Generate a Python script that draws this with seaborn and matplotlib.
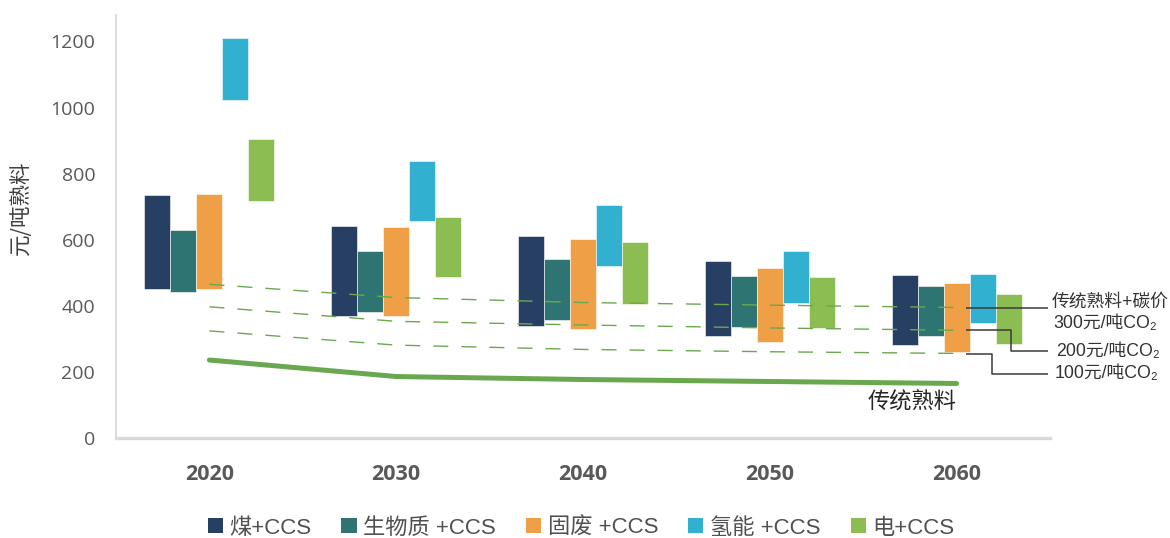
import numpy as np
import pandas as pd
import matplotlib
matplotlib.use("Agg")
import matplotlib.pyplot as plt
from matplotlib.patches import Patch
import seaborn as sns

# ---------------- data ----------------
years = [2020, 2030, 2040, 2050, 2060]
series = ["煤+CCS", "生物质 +CCS", "固废 +CCS", "氢能 +CCS", "电+CCS"]

coal_low = [450, 369, 338, 310, 281]
coal_high = [735, 641, 610, 537, 493]
bio_low = [443, 382, 358, 335, 310]
bio_high = [630, 565, 543, 491, 460]
waste_low = [452, 369, 330, 289, 260]
waste_high = [737, 639, 601, 514, 469]
h2_low = [1022, 656, 519, 410, 349]
h2_high = [1211, 839, 705, 567, 497]
elec_low = [716, 487, 405, 332, 284]
elec_high = [904, 668, 592, 488, 435]

trad = [236, 186, 177, 171, 165]
carbon300 = [465, 425, 410, 402, 395]
carbon200 = [397, 353, 342, 333, 326]
carbon100 = [324, 281, 268, 261, 256]

yticks = [0, 200, 400, 600, 800, 1000, 1200]
ylabel = "元/吨熟料"
trad_label = "传统熟料"
price_labels = ["传统熟料+碳价", "300元/吨CO₂", "200元/吨CO₂", "100元/吨CO₂"]

colors = ["#273f63", "#2e7473", "#ef9f45", "#31b0d0", "#8bbd52"]
line_green = "#6aa84f"

# ---------------- style ----------------
sns.set_theme(style="white")
CJK = ["Noto Sans CJK SC", "DejaVu Sans"]
MIX = ["Liberation Sans", "Noto Sans CJK SC", "DejaVu Sans"]
plt.rcParams["font.family"] = ["Open Sans", "Noto Sans CJK SC", "DejaVu Sans"]

W, H = 1170, 538
fig = plt.figure(figsize=(W / 100, H / 100), dpi=100)
ax = fig.add_axes([116 / W, 100 / H, 934 / W, 423 / H])

lows = [coal_low, bio_low, waste_low, h2_low, elec_low]
highs = [coal_high, bio_high, waste_high, h2_high, elec_high]

bar_frac = 0.139          # fraction of the 10-year spacing per bar
step = 10 * bar_frac
for i, (lo, hi) in enumerate(zip(lows, highs)):
    lo = np.array(lo, float)
    hi = np.array(hi, float)
    xpos = np.array(years, float) + (i - 2) * step
    df = pd.DataFrame({"x": xpos, "h": hi - lo})
    sns.barplot(data=df, x="x", y="h", native_scale=True, orient="x",
                width=bar_frac, color=colors[i], saturation=1,
                errorbar=None, bottom=lo, edgecolor="white",
                linewidth=0.4, ax=ax)

dash = (0, (10.8, 9.4))
for vals in [carbon300, carbon200, carbon100]:
    sns.lineplot(x=years, y=vals, color=line_green, linewidth=1.0,
                 linestyle=dash, errorbar=None, ax=ax)
sns.lineplot(x=years, y=trad, color=line_green, linewidth=3.6,
             solid_capstyle="round", errorbar=None, ax=ax)

ax.set_xlim(2015, 2065)
ax.set_ylim(0, 1280)
ax.set_yticks(yticks)
ax.set_yticklabels([str(v) for v in yticks])
ax.set_xticks(years)
ax.set_xticklabels([str(y) for y in years])
ax.tick_params(axis="y", length=0, pad=15, labelsize=14, labelcolor="#595959")
ax.tick_params(axis="x", length=0, pad=19, labelsize=15.5, labelcolor="#595959")
for lab in ax.get_xticklabels():
    lab.set_fontweight("bold")
    lab.set_family(["Open Sans", "DejaVu Sans"])
ax.set_xlabel("")
ax.set_ylabel(ylabel, family=CJK, fontsize=15.5, color="#404040")
ax.yaxis.set_label_coords(-0.09, 0.545)

for s in ["top", "right"]:
    ax.spines[s].set_visible(False)
ax.spines["left"].set_color("#d9d9d9")
ax.spines["left"].set_linewidth(1.4)
ax.spines["bottom"].set_color("#d9d9d9")
ax.spines["bottom"].set_linewidth(2.4)
ax.grid(False)

# label for the traditional clinker line
ax.text(2057.6, 108, trad_label, family=CJK, fontsize=16, color="#262626",
        ha="center", va="center")

# leader lines from the end of the carbon price lines to their labels
lead = dict(color="#3a3a3a", linewidth=1.1, clip_on=False, solid_capstyle="butt")
x0 = years[-1] + 0.5
ax.plot([x0, 2064.9], [carbon300[-1] - 2, carbon300[-1] - 2], **lead)
ax.plot([x0, 2062.9, 2062.9, 2064.9],
        [carbon200[-1], carbon200[-1], 263, 263], **lead)
ax.plot([x0, 2061.9, 2061.9, 2064.9],
        [carbon100[-1] - 2, carbon100[-1] - 2, 193, 193], **lead)

txt = dict(family=MIX, fontsize=12.8, color="#333333", ha="left", va="center")
fig.text(1052 / W, 1 - 302 / H, price_labels[0], **txt)
fig.text(1053 / W, 1 - 323 / H, price_labels[1], **txt)
fig.text(1056 / W, 1 - 352 / H, price_labels[2], **txt)
fig.text(1055 / W, 1 - 374 / H, price_labels[3], **txt)

handles = [Patch(facecolor=c, edgecolor="none") for c in colors]
fig.legend(handles, series, loc="center", bbox_to_anchor=(581 / W, 1 - 528 / H),
           ncol=5, frameon=False, handlelength=0.68, handleheight=0.68,
           handletextpad=0.3, columnspacing=1.35, borderpad=0,
           prop={"family": MIX, "size": 16}, labelcolor="#505050")

fig.savefig("out.png", dpi=100)
